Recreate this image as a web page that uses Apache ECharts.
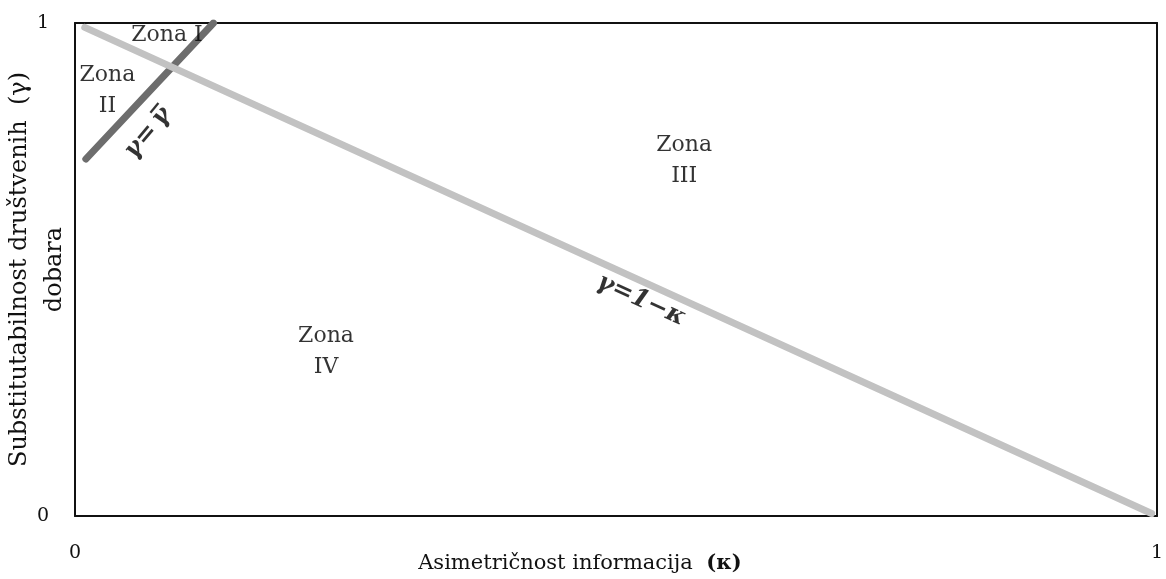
<!DOCTYPE html>
<html>
<head>
<meta charset="utf-8">
<script src="https://cdn.jsdelivr.net/npm/echarts@6/dist/echarts.min.js"></script>
<style>
  html, body { margin: 0; padding: 0; background: #fff; }
  #chart { width: 1166px; height: 579px; }
</style>
</head>
<body>
<div id="chart"></div>
<script>
// axis ticks
const xTicks = [0, 1]
const yTicks = [0, 1]

// line gamma = 1 - kappa (light gray)
const lightKappa = [0.009, 0.995]
const lightGamma = [0.991, 0.005]

// line gamma = gamma-bar (dark gray)
const darkKappa = [0.01, 0.128]
const darkGamma = [0.724, 1.0]

// zone labels
const zoneNames = ['Zona I', 'Zona\nII', 'Zona\nIII', 'Zona\nIV']
const zoneKappa = [0.085, 0.03, 0.563, 0.232]
const zoneGamma = [0.976, 0.862, 0.72, 0.333]

// equation labels along the lines
const eqNames = ['γ=1−κ', 'γ=\u2009γ\u0305']
const eqKappa = [0.523, 0.0675]
const eqGamma = [0.438, 0.777]
const eqAngle = [-24.5, 50]

const serif = 'DejaVu Serif'
const chart = echarts.init(document.getElementById('chart'))

// plain frame axis (top / right edge of the box)
const frameAxis = (position) => ({
  type: 'value',
  position: position,
  min: 0,
  max: 1,
  interval: 1,
  z: 1,
  axisLine: { show: true, onZero: false, lineStyle: { color: '#111', width: 2 } },
  axisTick: { show: false },
  axisLabel: { show: false },
  splitLine: { show: false },
})

const options = {
  backgroundColor: '#fff',
  animation: false,
  grid: {
    left: 75,
    right: 9,
    top: 23,
    bottom: 63,
    outerBoundsMode: 'none',
    containLabel: false,
  },
  xAxis: [
    {
      type: 'value',
      min: 0,
      max: 1,
      interval: 1,
      name: 'Asimetričnost informacija  {b|(κ)}',
      nameLocation: 'middle',
      nameMoveOverlap: false,
      nameGap: 37,
      nameTextStyle: {
        fontFamily: serif,
        fontSize: 21,
        color: '#111',
        padding: [0, 72, 0, 0],
        rich: {
          b: { fontFamily: serif, fontSize: 21, fontWeight: 'bold', color: '#111' },
        },
      },
      axisLine: { show: true, onZero: false, lineStyle: { color: '#111', width: 2 } },
      axisTick: { show: false },
      splitLine: { show: false },
      axisLabel: {
        margin: 28,
        fontFamily: serif,
        fontSize: 19,
        color: '#111',
        formatter: (v) => (xTicks.includes(v) ? String(v) : ''),
      },
    },
    frameAxis('top'),
  ],
  yAxis: [
    {
      type: 'value',
      min: 0,
      max: 1,
      interval: 1,
      name: 'Substitutabilnost društvenih  (γ)\ndobara',
      nameLocation: 'middle',
      nameMoveOverlap: false,
      nameGap: -3,
      z: 10,
      nameTextStyle: {
        fontFamily: serif,
        fontSize: 24,
        lineHeight: 35,
        color: '#111',
        backgroundColor: '#fff',
        padding: [0, 0, 6, 0],
      },
      axisLine: { show: true, onZero: false, lineStyle: { color: '#111', width: 2 } },
      axisTick: { show: false },
      splitLine: { show: false },
      axisLabel: {
        margin: 26,
        fontFamily: serif,
        fontSize: 19,
        color: '#111',
        formatter: (v) => (yTicks.includes(v) ? String(v) : ''),
      },
    },
    frameAxis('right'),
  ],
  series: [
    {
      name: 'gammaBar',
      type: 'line',
      symbol: 'none',
      z: 2,
      lineStyle: { color: '#6d6d6d', width: 7, cap: 'round' },
      data: darkKappa.map((k, i) => [k, darkGamma[i]]),
    },
    {
      name: 'oneMinusKappa',
      type: 'line',
      symbol: 'none',
      z: 3,
      lineStyle: { color: '#c2c2c2', width: 7, cap: 'round' },
      data: lightKappa.map((k, i) => [k, lightGamma[i]]),
    },
    {
      name: 'zones',
      type: 'scatter',
      symbolSize: 0,
      z: 4,
      label: {
        show: true,
        position: 'inside',
        fontFamily: serif,
        fontSize: 22,
        lineHeight: 31,
        color: '#000',
        align: 'center',
        formatter: (p) => p.data[2],
      },
      data: zoneNames.map((n, i) => [zoneKappa[i], zoneGamma[i], n]),
    },
    {
      name: 'equations',
      type: 'scatter',
      symbolSize: 0,
      z: 5,
      label: {
        show: true,
        position: 'inside',
        fontFamily: serif,
        fontSize: 25,
        fontWeight: 'bold',
        fontStyle: 'italic',
        color: '#000',
        formatter: (p) => p.data.value[2],
      },
      data: eqNames.map((n, i) => ({
        value: [eqKappa[i], eqGamma[i], n],
        label: { rotate: eqAngle[i] },
      })),
    },
  ],
}

chart.setOption(options)
window.addEventListener('resize', () => {
  chart.resize()
})
</script>
</body>
</html>
